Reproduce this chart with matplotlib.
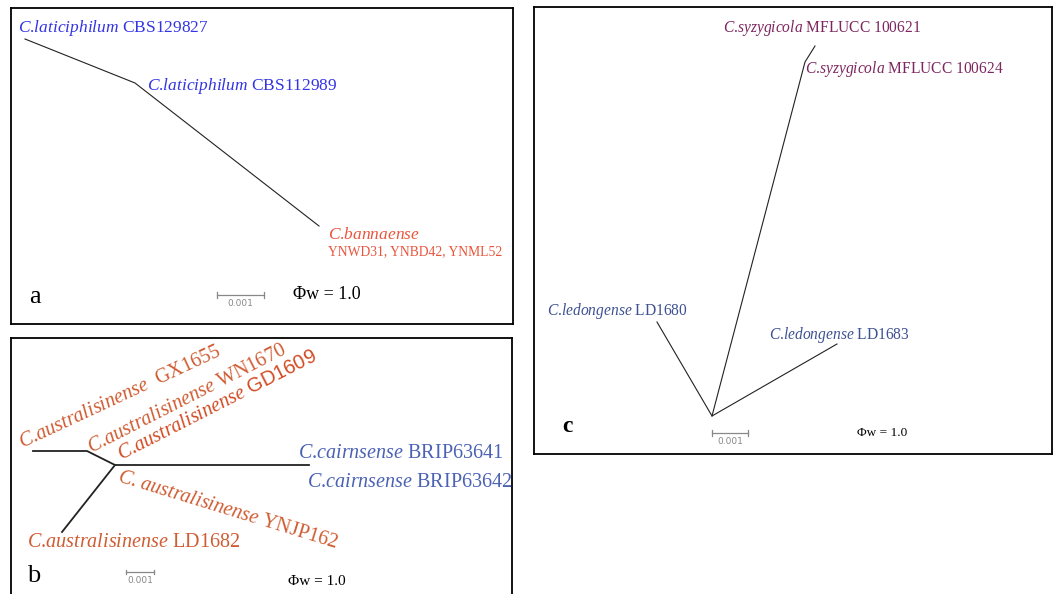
import numpy as np
import matplotlib
matplotlib.use("Agg")
import matplotlib.pyplot as plt

plt.rcParams['font.family'] = ['Liberation Serif', 'DejaVu Serif']
plt.rcParams['mathtext.fontset'] = 'custom'
plt.rcParams['mathtext.rm'] = 'Liberation Serif'
plt.rcParams['mathtext.it'] = 'Liberation Serif:italic'
plt.rcParams['mathtext.sf'] = 'Liberation Sans'


# italic species name without the extra math space after "C."
def sp(name, sep="."):
    return r"$\mathit{C}$" + sep + r"$\mathit{" + name + "}$"


# ---- panel a: network path (pixel-like layout units)
a_x = [25, 135, 319]
a_y = [39, 83, 226]
a_labels = [sp("laticiphilum") + " CBS129827",
            sp("laticiphilum") + " CBS112989",
            sp("bannaense"),
            "YNWD31, YNBD42, YNML52"]
a_lab_x = [18, 147, 328, 328]
a_lab_y = [32, 90, 239, 255]
a_lab_size = [12.5, 12.5, 12.5, 9.8]
a_lab_col = ["#3434e4", "#3434e4", "#e9553c", "#e9553c"]

# ---- panel b
b_x = [33, 87, 115, 309]
b_y = [451, 451, 465, 465]
b_leaf_x = [115, 62]
b_leaf_y = [465, 532]
b_labels = [sp("australisinense") + "  GX1655",
            sp("australisinense") + " WN1670",
            sp("australisinense") + r" $\mathsf{GD1609}$",
            sp("australisinense", ". ") + " YNJP162",
            sp("cairnsense") + " BRIP63641",
            sp("cairnsense") + " BRIP63642",
            sp("australisinense") + " LD1682"]
b_lab_x = [22, 91, 121, 117, 298, 307, 27]
b_lab_y = [448, 453, 460, 481, 458, 487, 547]
b_lab_rot = [25, 27, 27, -17, 0, 0, 0]
b_lab_col = ["#cf5c32", "#cf5c32", "#d24b22", "#cf5c32",
             "#4b62b4", "#4b62b4", "#cf5c32"]

# ---- panel c
c_main_x = [712, 805, 815]
c_main_y = [416, 62, 46]
c_v_x = [657, 712, 837]
c_v_y = [322, 416, 344]
c_labels = [sp("syzygicola") + " MFLUCC 100621",
            sp("syzygicola") + " MFLUCC 100624",
            sp("ledongense") + " LD1680",
            sp("ledongense") + " LD1683"]
c_lab_x = [723, 805, 547, 769]
c_lab_y = [32, 73, 315, 339]
c_lab_col = ["#7d2660", "#7d2660", "#3e5192", "#3e5192"]

W, H = 1063, 594
fig = plt.figure(figsize=(W / 100, H / 100), dpi=100)
fig.patch.set_facecolor("white")


def panel(x0, x1, y0, y1):
    ax = fig.add_axes([x0 / W, 1 - y1 / H, (x1 - x0) / W, (y1 - y0) / H])
    ax.set_xlim(x0, x1)
    ax.set_ylim(y1, y0)
    ax.set_xticks([])
    ax.set_yticks([])
    for s in ax.spines.values():
        s.set_linewidth(1.3)
        s.set_color("black")
    return ax


def scale_bar(ax, x0, x1, y, fs, cap=3):
    ax.plot([x0, x1], [y, y], color="#888888", lw=0.9)
    ax.plot([x0, x0], [y - cap, y + cap], color="#888888", lw=0.9)
    ax.plot([x1, x1], [y - cap, y + cap], color="#888888", lw=0.9)
    ax.text((x0 + x1) / 2, y + 4, "0.001", family="DejaVu Sans", fontsize=fs,
            color="#888888", ha="center", va="top")


# panel a
ax = panel(11, 513, 8, 324)
ax.plot(a_x, a_y, color="#222222", lw=0.8)
for t, x, y, s, c in zip(a_labels, a_lab_x, a_lab_y, a_lab_size, a_lab_col):
    ax.text(x, y, t, fontsize=s, color=c, ha="left", va="baseline")
ax.text(29, 303, "a", fontsize=19, ha="left", va="baseline")
scale_bar(ax, 217, 264, 295, 6.5)
ax.text(293, 299, "Φw = 1.0", fontsize=13, ha="left", va="baseline")

# panel b
ax = panel(11, 512, 338, 620)
ax.plot(b_x, b_y, color="#222222", lw=1.3)
ax.plot(b_leaf_x, b_leaf_y, color="#222222", lw=1.3)
for t, x, y, r, c in zip(b_labels, b_lab_x, b_lab_y, b_lab_rot, b_lab_col):
    ax.text(x, y, t, fontsize=14.5, color=c, rotation=r, rotation_mode="anchor",
            ha="left", va="baseline")
ax.text(27, 582, "b", fontsize=19, ha="left", va="baseline")
scale_bar(ax, 126, 154, 572, 6.5, cap=2)
ax.text(288, 585, "Φw = 1.0", fontsize=11, ha="left", va="baseline")

# panel c
ax = panel(534, 1052, 7, 454)
ax.plot(c_main_x, c_main_y, color="#222222", lw=0.8)
ax.plot(c_v_x, c_v_y, color="#222222", lw=0.8)
for t, x, y, c in zip(c_labels, c_lab_x, c_lab_y, c_lab_col):
    ax.text(x, y, t, fontsize=11.2, color=c, ha="left", va="baseline")
ax.text(562, 432, "c", fontsize=17, fontweight="bold", ha="left", va="baseline")
scale_bar(ax, 712, 748, 433, 6.5)
ax.text(857, 436, "Φw = 1.0", fontsize=9.5, ha="left", va="baseline")

fig.savefig("out.png", dpi=100, facecolor="white")
